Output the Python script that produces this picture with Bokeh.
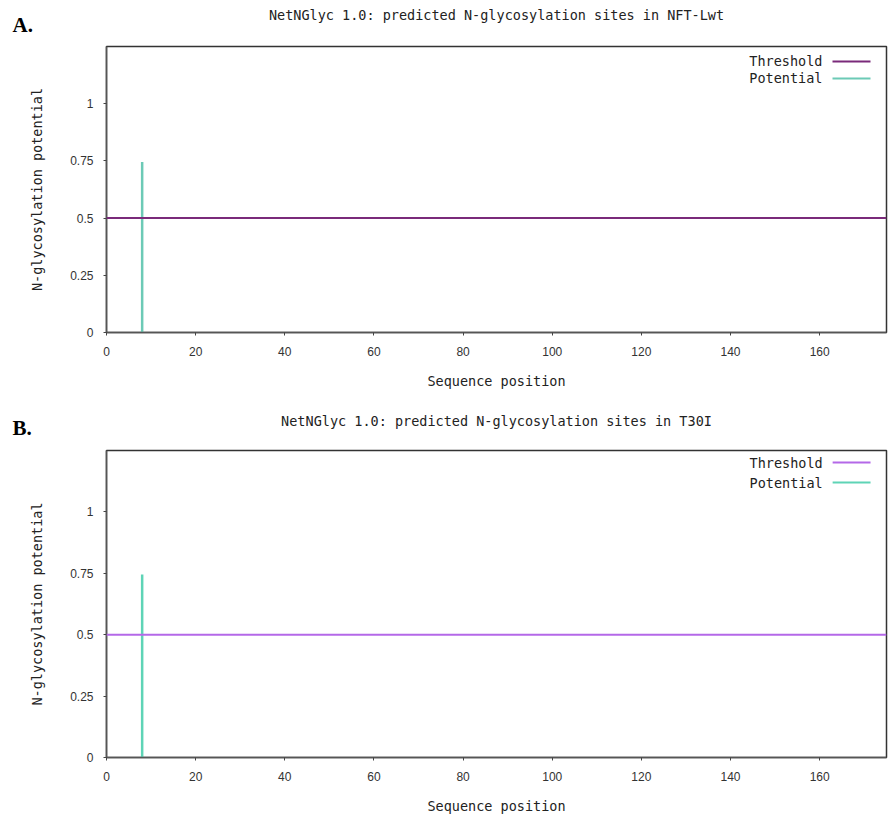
from bokeh.plotting import figure
from bokeh.models import Span, Label, FixedTicker, Title
from bokeh.layouts import column
from bokeh.embed import file_html
from bokeh.resources import INLINE

# ---- data ----
panel_letters = ["A.", "B."]
titles = ["NetNGlyc 1.0: predicted N-glycosylation sites in NFT-Lwt",
          "NetNGlyc 1.0: predicted N-glycosylation sites in T30I"]
site_positions_A = [8]
site_potential_A = [0.745]
site_positions_B = [8]
site_potential_B = [0.745]
threshold = 0.5
seq_length = 175
x_ticks = [0, 20, 40, 60, 80, 100, 120, 140, 160]
y_ticks = [0, 0.25, 0.5, 0.75, 1]
y_tick_labels = {0: "0", 0.25: "0.25", 0.5: "0.5", 0.75: "0.75", 1: "1"}
legend_labels = ["Threshold", "Potential"]

MONO = "DejaVu Sans Mono"
SANS = "Liberation Sans"


def make_panel(letter, title, xs, ys, thr_color, pot_color,
               height, b_left, b_right, b_top, b_bottom, letter_standoff, title_standoff,
               leg_top, leg_step):
    W = 890
    fw = W - b_left - b_right
    fh = height - b_top - b_bottom
    y_max = 1.25
    p = figure(width=W, height=height, x_range=(0, seq_length), y_range=(0, y_max),
               output_backend="svg", toolbar_location=None,
               min_border_left=b_left, min_border_right=b_right,
               min_border_top=b_top, min_border_bottom=b_bottom)
    p.title = Title(text=title, align="center", text_font=MONO, text_font_size="13.5px",
                    text_font_style="normal", text_color="#222222", standoff=title_standoff)
    p.xgrid.visible = False
    p.ygrid.visible = False
    p.outline_line_color = "#333333"
    p.outline_line_width = 1.5
    for ax in (p.xaxis[0], p.yaxis[0]):
        ax.axis_line_color = "#555555"
        ax.axis_line_width = 1.5
        ax.major_tick_out = 3
        ax.major_tick_in = 0
        ax.major_tick_line_color = "#444444"
        ax.minor_tick_line_color = None
        ax.major_label_text_font = SANS
        ax.major_label_text_font_size = "12px"
        ax.major_label_text_color = "#333333"
        ax.axis_label_text_font = MONO
        ax.axis_label_text_font_size = "13.5px"
        ax.axis_label_text_font_style = "normal"
        ax.axis_label_text_color = "#222222"
    p.xaxis.ticker = FixedTicker(ticks=x_ticks)
    p.yaxis.ticker = FixedTicker(ticks=y_ticks)
    p.yaxis.major_label_overrides = y_tick_labels
    p.xaxis.axis_label = "Sequence position"
    p.yaxis.axis_label = "N-glycosylation potential"
    p.xaxis.major_label_standoff = 11
    p.xaxis.axis_label_standoff = 14
    p.yaxis.major_label_standoff = 10
    p.yaxis.axis_label_standoff = 22

    p.add_layout(Span(location=threshold, dimension="width",
                      line_color=thr_color, line_width=2))
    p.segment(x0=xs, y0=[0] * len(xs), x1=xs, y1=ys, line_color=pot_color, line_width=2.5)

    sx = seq_length / fw
    sy = y_max / fh
    for i, (lab, col) in enumerate(zip(legend_labels, [thr_color, pot_color])):
        ypx = leg_top + leg_step * i
        yd = y_max - ypx * sy
        p.add_layout(Label(x=seq_length - 64 * sx, y=yd, text=lab, text_align="right",
                           text_baseline="middle", text_font=MONO, text_font_size="13.5px",
                           text_color="#222222"))
        p.segment(x0=[seq_length - 54 * sx], y0=[yd], x1=[seq_length - 16 * sx], y1=[yd],
                  line_color=col, line_width=2)

    # panel letter, next to the frame, on the same line as the (pulled-down) title
    p.add_layout(Title(text=letter, align="left", offset=12 - b_left, standoff=letter_standoff,
                       text_font="Liberation Serif", text_font_style="bold",
                       text_font_size="21px", text_color="#000000"), "above")
    return p


pA = make_panel(panel_letters[0], titles[0], site_positions_A, site_potential_A,
                "#7a2a7a", "#6ccab6", 400, 106, 4, 45, 68, 20, -45, 15, 17)
pB = make_panel(panel_letters[1], titles[1], site_positions_B, site_potential_B,
                "#b468e8", "#5ed4b6", 417, 106, 2, 50, 60, 21, -50, 12, 20)

layout = column(pA, pB, spacing=0)
open("out.html", "w").write(file_html(layout, INLINE))
